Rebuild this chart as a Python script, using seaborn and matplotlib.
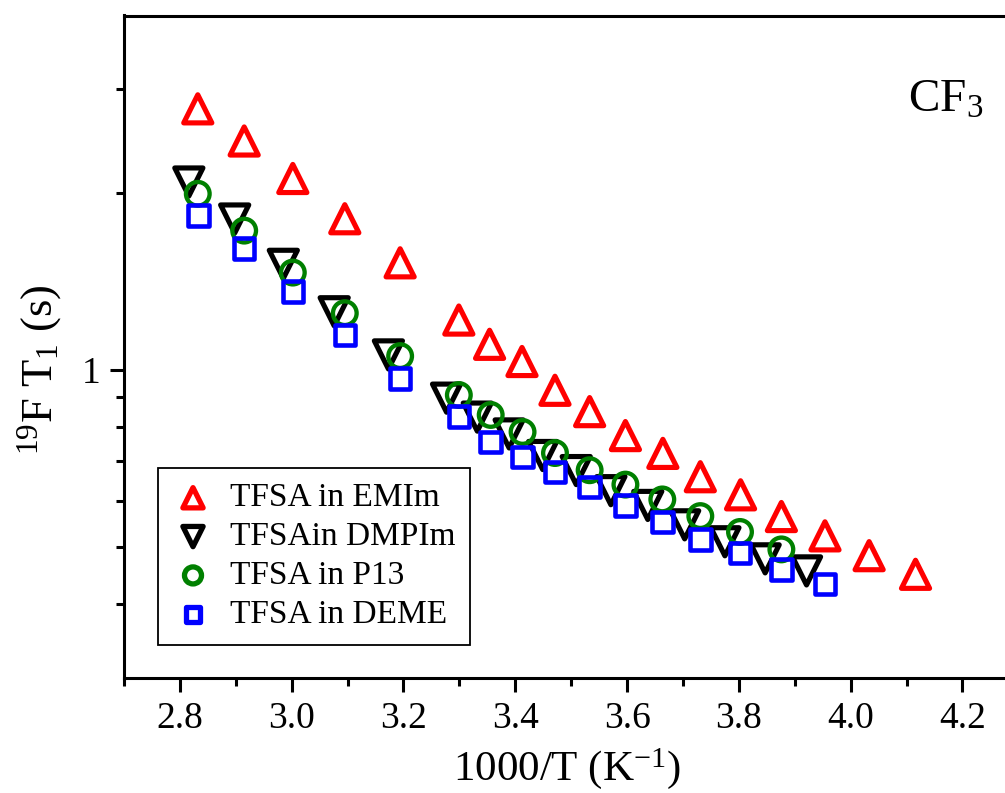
import numpy as np
import pandas as pd
import matplotlib
matplotlib.use("Agg")
import matplotlib.pyplot as plt
import matplotlib.ticker as mticker
import seaborn as sns

# ---- data ----
emim_x = [2.832, 2.915, 3.002, 3.095, 3.194, 3.299, 3.354, 3.412, 3.471, 3.533,
          3.597, 3.664, 3.731, 3.803, 3.876, 3.954, 4.033, 4.116]
emim_y = [2.777, 2.449, 2.115, 1.807, 1.521, 1.216, 1.106, 1.034, 0.924, 0.850,
          0.774, 0.722, 0.659, 0.614, 0.564, 0.523, 0.484, 0.450]

dmpim_x = [2.816, 2.898, 2.985, 3.076, 3.173, 3.277, 3.332, 3.389, 3.449, 3.509,
           3.571, 3.637, 3.703, 3.775, 3.847, 3.921]
dmpim_y = [2.086, 1.805, 1.512, 1.256, 1.061, 0.896, 0.832, 0.779, 0.716, 0.675,
           0.624, 0.589, 0.546, 0.511, 0.478, 0.456]

p13_x = [2.832, 2.915, 3.002, 3.095, 3.194, 3.299, 3.356, 3.413, 3.471, 3.533,
         3.597, 3.663, 3.731, 3.802, 3.876]
p13_y = [1.992, 1.725, 1.464, 1.249, 1.056, 0.907, 0.839, 0.785, 0.723, 0.676,
         0.639, 0.603, 0.565, 0.531, 0.496]

deme_x = [2.833, 2.915, 3.002, 3.095, 3.194, 3.299, 3.356, 3.413, 3.471, 3.533,
          3.597, 3.663, 3.731, 3.802, 3.876, 3.954]
deme_y = [1.829, 1.609, 1.359, 1.147, 0.968, 0.833, 0.755, 0.712, 0.671, 0.633,
          0.589, 0.552, 0.515, 0.489, 0.458, 0.433]

labels = ["TFSA in EMIm", "TFSAin DMPIm", "TFSA in P13", "TFSA in DEME"]
colors = ["#ff0000", "#000000", "#008000", "#0000ff"]
markers = ["^", "v", "o", "s"]

x_ticks = [2.8, 3.0, 3.2, 3.4, 3.6, 3.8, 4.0, 4.2]
x_tick_labels = ["2.8", "3.0", "3.2", "3.4", "3.6", "3.8", "4.0", "4.2"]

series = [(emim_x, emim_y), (dmpim_x, dmpim_y), (p13_x, p13_y), (deme_x, deme_y)]
sizes = [410, 410, 290, 220]      # marker areas in pt^2
widths = [3.7, 3.7, 3.1, 3.3]     # marker edge widths in pt

# ---- style ----
sns.set_style("ticks")
plt.rcParams["font.family"] = ["Liberation Serif", "DejaVu Serif"]
plt.rcParams["mathtext.fontset"] = "custom"
plt.rcParams["mathtext.rm"] = "Liberation Serif"
plt.rcParams["mathtext.it"] = "Liberation Serif:italic"
plt.rcParams["mathtext.bf"] = "Liberation Serif:bold"
plt.rcParams["text.color"] = "black"
plt.rcParams["axes.labelcolor"] = "black"
plt.rcParams["xtick.color"] = "black"
plt.rcParams["ytick.color"] = "black"
plt.rcParams["axes.edgecolor"] = "black"

fig = plt.figure(figsize=(10.05, 7.93), dpi=100)
ax = fig.add_axes([124 / 1005, 1 - 678 / 793, (1010 - 124) / 1005, (678 - 15.5) / 793])

for (xs, ys), lab, col, mk, sz, lw in zip(series, labels, colors, markers, sizes, widths):
    df = pd.DataFrame({"x": xs, "y": ys})
    sns.scatterplot(data=df, x="x", y="y", ax=ax, marker=mk, s=sz,
                    color=col, facecolor="none", edgecolor=col,
                    linewidth=lw, label=lab, zorder=3)

ax.set_yscale("log")
ax.set_xlim(2.7, 4.285)
ax.set_ylim(0.3, 4.0)

ax.set_xticks(x_ticks)
ax.set_xticklabels(x_tick_labels)
ax.xaxis.set_minor_locator(mticker.MultipleLocator(0.2, offset=0.1))
ax.yaxis.set_major_locator(mticker.FixedLocator([1.0]))
ax.yaxis.set_major_formatter(mticker.FixedFormatter(["1"]))
ax.yaxis.set_minor_locator(mticker.FixedLocator([0.4, 0.5, 0.6, 0.7, 0.8, 0.9, 2.0, 3.0]))
ax.yaxis.set_minor_formatter(mticker.NullFormatter())

ax.tick_params(axis="both", which="major", direction="out", length=10, width=2.2,
               labelsize=27, color="black", labelcolor="black", pad=7)
ax.tick_params(axis="both", which="minor", direction="out", length=6, width=2.2,
               color="black")
ax.tick_params(top=False, right=False, which="both")

for sp in ["left", "bottom", "top", "right"]:
    ax.spines[sp].set_linewidth(2.2)
    ax.spines[sp].set_color("black")
    ax.spines[sp].set_visible(True)

ax.set_xlabel(r"1000/T (K$^{\mathregular{-1}}$)", fontsize=31, labelpad=7)
ax.set_ylabel(r"$^{\mathregular{19}}$F T$_{\mathregular{1}}$ (s)", fontsize=32)
ax.yaxis.set_label_coords((64 - 124) / 886, (678 - 370) / 662.5)

ax.text((908 - 124) / 886, (678 - 112) / 662.5, r"CF$_{\mathregular{3}}$",
        transform=ax.transAxes, fontsize=34, ha="left", va="baseline")

leg = ax.legend(loc="upper left",
                bbox_to_anchor=((158 - 124) / 886, (678 - 468) / 662.5),
                frameon=True, fancybox=False, edgecolor="black", framealpha=1,
                fontsize=24, markerscale=0.72, handlelength=1.2, handletextpad=0.5,
                labelspacing=0.25, borderpad=0.45, borderaxespad=0)
leg.get_frame().set_linewidth(1.3)
for h in leg.legend_handles:
    h.set_linewidth(3.8)
for t in leg.get_texts():
    t.set_color("black")

fig.savefig("out.png", dpi=100)
